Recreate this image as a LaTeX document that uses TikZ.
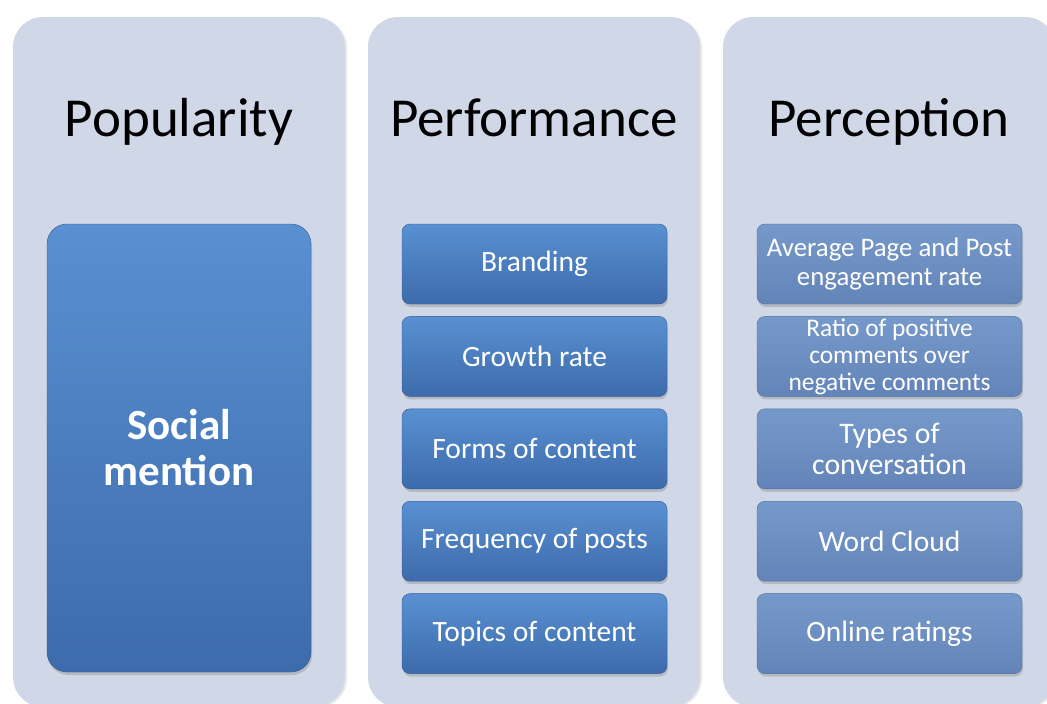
\documentclass[tikz,border=0pt]{standalone}
\usepackage{fontspec}
\setmainfont{Carlito}
\usepackage{xcolor}
\usetikzlibrary{positioning,shadows}

\definecolor{panelfill}{HTML}{D0D8E7}
\definecolor{boxtop}{HTML}{5990D2}
\definecolor{boxbot}{HTML}{3D6BAB}
\definecolor{boxline}{HTML}{335C92}
\definecolor{palebox}{HTML}{7699CB}
\definecolor{paleboxbot}{HTML}{6384B8}
\definecolor{paleline}{HTML}{4E6E9E}

\tikzset{
  panel/.style={rounded corners=30pt,fill=panelfill,minimum width=332pt,minimum height=690pt,
    drop shadow={opacity=0.18,shadow xshift=2pt,shadow yshift=-1pt}},
  colhead/.style={font=\fontsize{55}{60}\selectfont,text=black,anchor=base},
  bigbox/.style={rounded corners=20pt,top color=boxtop,bottom color=boxbot,draw=boxline,
    minimum width=264pt,minimum height=448pt,text=white,align=center,
    font=\bfseries\fontsize{43}{46}\selectfont,
    drop shadow={opacity=0.35,shadow xshift=1pt,shadow yshift=-3pt}},
  itembox/.style={rounded corners=8pt,top color=boxtop,bottom color=boxbot,draw=boxline,
    minimum width=265pt,minimum height=80pt,inner sep=2pt,text=white,align=center,
    font=\fontsize{29.5}{32}\selectfont,
    drop shadow={opacity=0.35,shadow xshift=1pt,shadow yshift=-3pt}},
  palebox/.style={itembox,top color=palebox,bottom color=paleboxbot,draw=paleline}
}

\begin{document}
\begin{tikzpicture}[x=1pt,y=-1pt,node distance=12pt]
  \useasboundingbox (0,0) rectangle (1047,704);
  % panels
  \node[panel] (pop)  at (179,362) {};
  \node[panel] (perf) at (534,362) {};
  \node[panel] (perc) at (889,362) {};
  \node[colhead] (poptitle)  at (179,136) {Popularity};
  \node[colhead] (perftitle) at (534,136) {Performance};
  \node[colhead] (perctitle) at (889,136) {Perception};

  % popularity
  \node[bigbox] (social) at (179,448) {Social\\mention};

  % performance
  \node[itembox] (brand) at (534.5,264) {Branding};
  \node[itembox] (growth) [below=of brand] {Growth rate};
  \node[itembox] (forms) [below=of growth] {Forms of content};
  \node[itembox] (freq) [below=of forms] {Frequency of posts};
  \node[itembox] (topics) [below=of freq] {Topics of content};

  % perception
  \node[palebox,font=\fontsize{26.8}{29}\selectfont] (engage) at (889.5,264) {Average Page and Post\\engagement rate};
  \node[palebox,inner ysep=0pt,font=\fontsize{25.4}{27}\selectfont] (ratio) [below=of engage] {Ratio of positive\\comments over\\negative comments};
  \node[palebox,font=\fontsize{29.8}{31}\selectfont] (convo) [below=of ratio] {Types of\\conversation};
  \node[palebox] (cloud) [below=of convo] {Word Cloud};
  \node[palebox] (rating) [below=of cloud] {Online ratings};
\end{tikzpicture}
\end{document}
